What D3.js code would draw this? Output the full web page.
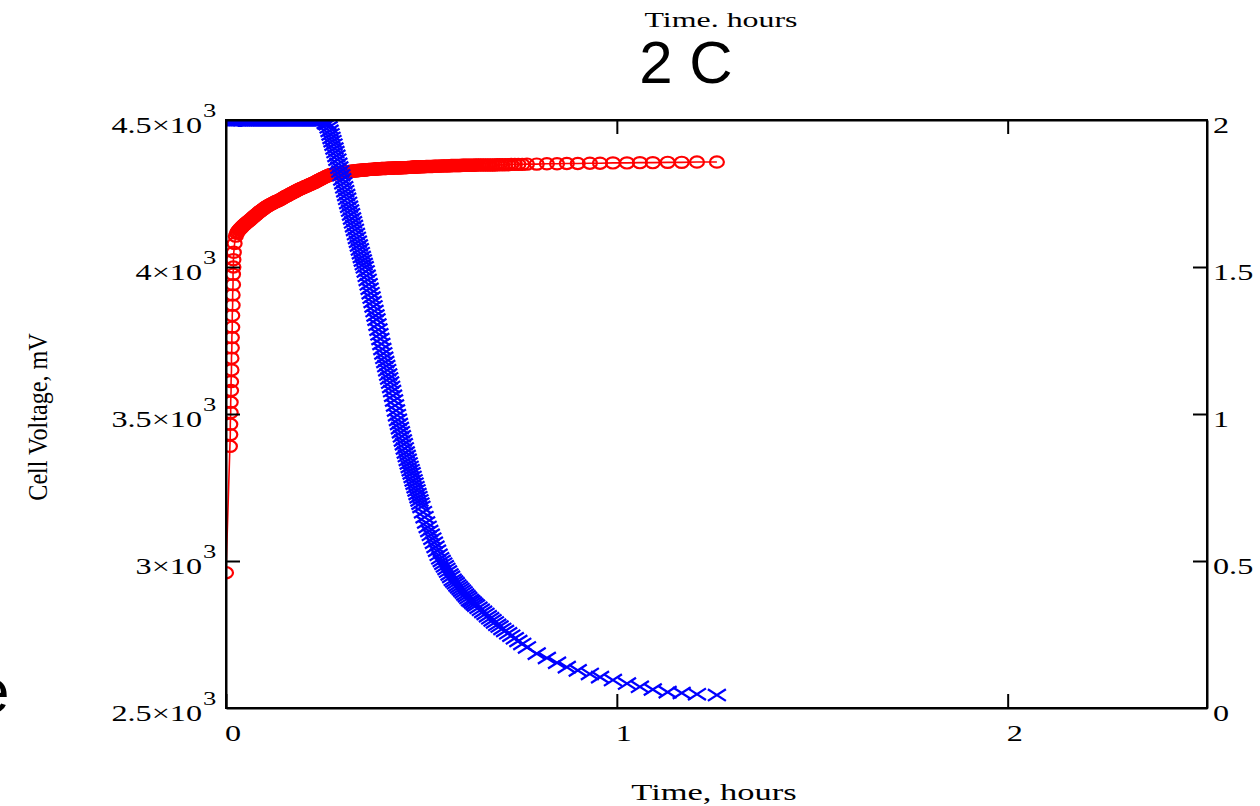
<!DOCTYPE html>
<html>
<head>
<meta charset="utf-8">
<script src="https://cdn.jsdelivr.net/npm/d3@7"></script>
<style>
  html, body { margin: 0; padding: 0; background: #fff; }
  svg { display: block; }
</style>
</head>
<body>
<svg id="chart" width="1260" height="806"></svg>
<script>
// ---------------- DATA ----------------
// Segment 1: start of charge (vertical stack of voltage points near t = 0)
const timeStart = [
  0, 0.010, 0.011, 0.011, 0.012, 0.012, 0.013, 0.013, 0.014, 0.014,
  0.015, 0.015, 0.016, 0.016, 0.017, 0.017, 0.018, 0.018, 0.019, 0.019
];
const voltStart = [
  2960, 3390, 3430, 3465, 3505, 3540, 3580, 3610, 3650, 3690,
  3725, 3760, 3795, 3835, 3870, 3905, 3940, 3975, 4000, 4025
];
const currStart = [
  2, 2, 2, 2, 2, 2, 2, 2, 2, 2,
  2, 2, 2, 2, 2, 2, 2, 2, 2, 2
];

// Segment 2: constant-current phase
const timeCC = [
  0.020, 0.022, 0.025, 0.028, 0.030, 0.033, 0.035, 0.038, 0.040, 0.043, 0.045, 0.048,
  0.0500, 0.0525, 0.0550, 0.0575, 0.0600, 0.0625, 0.0650, 0.0675, 0.0700, 0.0725,
  0.0750, 0.0775, 0.0800, 0.0825, 0.0850, 0.0875, 0.0900, 0.0925, 0.0950, 0.0975,
  0.1000, 0.1025, 0.1050, 0.1075, 0.1100, 0.1125, 0.1150, 0.1175, 0.1200, 0.1225,
  0.1250, 0.1275, 0.1300, 0.1325, 0.1350, 0.1375, 0.1400, 0.1425, 0.1450, 0.1475,
  0.1500, 0.1525, 0.1550, 0.1575, 0.1600, 0.1625, 0.1650, 0.1675, 0.1700, 0.1725,
  0.1750, 0.1775, 0.1800, 0.1825, 0.1850, 0.1875, 0.1900, 0.1925, 0.1950, 0.1975,
  0.2000, 0.2025, 0.2050, 0.2075, 0.2100, 0.2125, 0.2150, 0.2175, 0.2200, 0.2225,
  0.2250, 0.2275, 0.2300, 0.2325, 0.2350, 0.2375, 0.2400, 0.2425, 0.2450, 0.2475,
  0.2500
];
const voltCC = [
  4050, 4080, 4105, 4115, 4120, 4125, 4128, 4132, 4135, 4139, 4142, 4145,
  4148, 4150, 4153, 4156, 4158, 4161, 4164, 4167, 4170, 4173,
  4176, 4178, 4181, 4184, 4187, 4189, 4192, 4194, 4197, 4199,
  4202, 4204, 4206, 4208, 4210, 4212, 4214, 4215, 4217, 4219,
  4221, 4222, 4224, 4225, 4227, 4228, 4230, 4232, 4234, 4236,
  4238, 4240, 4242, 4243, 4245, 4247, 4249, 4250, 4252, 4254,
  4256, 4257, 4259, 4261, 4263, 4264, 4266, 4267, 4269, 4270,
  4272, 4273, 4275, 4276, 4278, 4279, 4281, 4282, 4284, 4285,
  4287, 4288, 4290, 4292, 4294, 4295, 4297, 4299, 4301, 4302,
  4304
];
const currCC = [
  2, 2, 2, 2, 2, 2, 2, 2, 2, 2, 2, 2,
  2, 2, 2, 2, 2, 2, 2, 2, 2, 2,
  2, 2, 2, 2, 2, 2, 2, 2, 2, 2,
  2, 2, 2, 2, 2, 2, 2, 2, 2, 2,
  2, 2, 2, 2, 2, 2, 2, 2, 2, 2,
  2, 2, 2, 2, 2, 2, 2, 2, 2, 2,
  2, 2, 2, 2, 2, 2, 2, 2, 2, 2,
  2, 2, 2, 2, 2, 2, 2, 2, 2, 2,
  2, 2, 2, 2, 2, 2, 2, 2, 2, 2,
  2
];

// Segment 3: steep current decay
const timeDecay = [
  0.2550, 0.2575, 0.2600, 0.2625, 0.2650, 0.2675, 0.2700, 0.2725, 0.2750, 0.2775,
  0.2800, 0.2825, 0.2850, 0.2875, 0.2900, 0.2925, 0.2950, 0.2975, 0.3000, 0.3025,
  0.3050, 0.3075, 0.3100, 0.3125, 0.3150, 0.3175, 0.3200, 0.3225, 0.3250, 0.3275,
  0.3300, 0.3325, 0.3350, 0.3375, 0.3400, 0.3425, 0.3450, 0.3475, 0.3500, 0.3525,
  0.3550, 0.3575, 0.3600, 0.3625, 0.3650, 0.3675, 0.3700, 0.3725, 0.3750, 0.3775,
  0.3800, 0.3825, 0.3850, 0.3875, 0.3900, 0.3925, 0.3950, 0.3975, 0.4000, 0.4025,
  0.4050, 0.4075, 0.4100, 0.4125, 0.4150, 0.4175, 0.4200, 0.4225, 0.4250, 0.4275,
  0.4300, 0.4325, 0.4350, 0.4375, 0.4400, 0.4425, 0.4450, 0.4475, 0.4500, 0.4525,
  0.4550, 0.4575, 0.4600, 0.4625, 0.4650, 0.4675, 0.4700, 0.4725, 0.4750, 0.4775,
  0.4800, 0.4825, 0.4850, 0.4875, 0.4900, 0.4925, 0.4950, 0.4975, 0.5000
];
const voltDecay = [
  4307, 4309, 4310, 4312, 4313, 4314, 4315, 4316, 4317, 4317,
  4318, 4318, 4319, 4319, 4320, 4320, 4321, 4321, 4322, 4322,
  4323, 4323, 4324, 4324, 4325, 4325, 4326, 4326, 4326, 4327,
  4327, 4327, 4328, 4328, 4328, 4329, 4329, 4329, 4330, 4330,
  4330, 4331, 4331, 4331, 4332, 4332, 4332, 4332, 4333, 4333,
  4333, 4333, 4334, 4334, 4334, 4334, 4334, 4335, 4335, 4335,
  4335, 4335, 4335, 4336, 4336, 4336, 4336, 4336, 4336, 4337,
  4337, 4337, 4337, 4337, 4337, 4337, 4337, 4337, 4338, 4338,
  4338, 4338, 4338, 4338, 4339, 4339, 4339, 4339, 4339, 4340,
  4340, 4340, 4340, 4340, 4340, 4341, 4341, 4341, 4341
];
const currDecay = [
  1.990, 1.989, 1.986, 1.975, 1.963, 1.951, 1.939, 1.928, 1.916, 1.903,
  1.891, 1.878, 1.865, 1.851, 1.838, 1.825, 1.812, 1.798, 1.785, 1.771,
  1.758, 1.745, 1.732, 1.718, 1.705, 1.692, 1.679, 1.665, 1.652, 1.639,
  1.626, 1.612, 1.599, 1.586, 1.573, 1.560, 1.547, 1.534, 1.522, 1.510,
  1.499, 1.485, 1.470, 1.456, 1.441, 1.426, 1.411, 1.396, 1.381, 1.366,
  1.350, 1.335, 1.321, 1.304, 1.287, 1.271, 1.255, 1.238, 1.221, 1.206,
  1.191, 1.177, 1.163, 1.149, 1.134, 1.121, 1.107, 1.092, 1.078, 1.062,
  1.046, 1.029, 1.012, 0.996, 0.980, 0.966, 0.952, 0.938, 0.924, 0.910,
  0.897, 0.883, 0.869, 0.857, 0.844, 0.832, 0.820, 0.809, 0.798, 0.786,
  0.774, 0.763, 0.751, 0.740, 0.728, 0.717, 0.706, 0.695, 0.684
];

// Segment 4: slowing decay
const timeSlow = [
  0.504, 0.508, 0.512, 0.516, 0.520, 0.524, 0.528, 0.532, 0.536, 0.540,
  0.544, 0.548, 0.552, 0.556, 0.560, 0.564, 0.568, 0.572, 0.576, 0.580,
  0.584, 0.588, 0.592, 0.596, 0.600, 0.604, 0.608, 0.612, 0.616, 0.620,
  0.624, 0.628, 0.632, 0.636, 0.640,
  0.646, 0.652, 0.658, 0.664, 0.670, 0.676, 0.682, 0.688, 0.694,
  0.700, 0.707, 0.714, 0.722, 0.730, 0.739, 0.748, 0.758
];
const voltSlow = [
  4341, 4341, 4342, 4342, 4342, 4342, 4342, 4343, 4343, 4343,
  4343, 4343, 4344, 4344, 4344, 4344, 4344, 4344, 4345, 4345,
  4345, 4345, 4345, 4345, 4345, 4346, 4346, 4346, 4346, 4346,
  4346, 4346, 4346, 4346, 4347,
  4347, 4347, 4347, 4347, 4347, 4347, 4347, 4347, 4348,
  4348, 4348, 4348, 4348, 4349, 4349, 4349, 4349
];
const currSlow = [
  0.666, 0.649, 0.631, 0.616, 0.602, 0.589, 0.576, 0.562, 0.548, 0.535,
  0.521, 0.509, 0.500, 0.491, 0.482, 0.473, 0.464, 0.454, 0.446, 0.436,
  0.430, 0.424, 0.417, 0.411, 0.405, 0.399, 0.393, 0.386, 0.380, 0.374,
  0.367, 0.363, 0.358, 0.353, 0.348,
  0.341, 0.334, 0.327, 0.320, 0.312, 0.305, 0.298, 0.291, 0.283,
  0.277, 0.269, 0.262, 0.254, 0.246, 0.237, 0.228, 0.218
];

// Segment 5: tail (sparser logging)
const timeTail = [
  0.770, 0.795, 0.821, 0.847, 0.872, 0.900, 0.931, 0.957, 0.990, 1.026,
  1.059, 1.092, 1.130, 1.166, 1.205, 1.256
];
const voltTail = [
  4350, 4350, 4351, 4351, 4352, 4352, 4353, 4353, 4354, 4354,
  4355, 4355, 4356, 4356, 4357, 4357
];
const currTail = [
  0.206, 0.185, 0.170, 0.154, 0.139, 0.128, 0.116, 0.105, 0.095, 0.083,
  0.072, 0.063, 0.054, 0.051, 0.047, 0.044
];

const timeHours = [...timeStart, ...timeCC, ...timeDecay, ...timeSlow, ...timeTail];
const voltageMv = [...voltStart, ...voltCC, ...voltDecay, ...voltSlow, ...voltTail];
const currentC = [...currStart, ...currCC, ...currDecay, ...currSlow, ...currTail];

const xTickValues = [0, 1, 2];
const xTickLabels = ["0", "1", "2"];
const leftTickValues = [2500, 3000, 3500, 4000, 4500];
const leftTickMantissa = ["2.5\u00d710", "3\u00d710", "3.5\u00d710", "4\u00d710", "4.5\u00d710"];
const leftTickExponent = "3";
const rightTickValues = [0, 0.5, 1, 1.5, 2];
const rightTickLabels = ["0", "0.5", "1", "1.5", "2"];

const titleText = "2 C";
const topAxisTitle = "Time. hours";
const bottomAxisTitle = "Time, hours";
const leftAxisTitle = "Cell Voltage, mV";
const strayText = "e";

// ---------------- LAYOUT ----------------
const L = 226, R = 1207, T = 120, B = 708;
const serif = "'Liberation Serif', 'Times New Roman', serif";
const sans = "'Liberation Sans', Arial, sans-serif";

const svg = d3.select("#chart");

const x = d3.scaleLinear().domain([0, 2.51]).range([L, R]);
const yL = d3.scaleLinear().domain([2500, 4500]).range([B, T]);
const yR = d3.scaleLinear().domain([0, 2]).range([B, T]);

const n = Math.min(timeHours.length, voltageMv.length, currentC.length);
const pts = timeHours.slice(0, n).map((t, i) => ({ t, v: voltageMv[i], c: currentC[i] }));

svg.append("defs").append("clipPath").attr("id", "plotclip")
  .append("rect").attr("x", L).attr("y", T).attr("width", R - L).attr("height", B - T);

const plot = svg.append("g").attr("clip-path", "url(#plotclip)");

// red voltage trace: thin connecting line + open circles
plot.append("path")
  .datum(pts)
  .attr("fill", "none")
  .attr("stroke", "#ff0000")
  .attr("stroke-width", 1.6)
  .attr("d", d3.line().x(d => x(d.t)).y(d => yL(d.v)));

plot.append("g").selectAll("ellipse")
  .data(pts).join("ellipse")
  .attr("cx", d => x(d.t))
  .attr("cy", d => yL(d.v))
  .attr("rx", 7)
  .attr("ry", 5.6)
  .attr("fill", "none")
  .attr("stroke", "#ff0000")
  .attr("stroke-width", 2.2);

// blue current trace: x markers
const hw = 9, hh = 5.8;
plot.append("g").selectAll("path")
  .data(pts).join("path")
  .attr("d", d => {
    const cx = x(d.t), cy = yR(d.c);
    return `M${cx - hw},${cy - hh}L${cx + hw},${cy + hh}M${cx - hw},${cy + hh}L${cx + hw},${cy - hh}`;
  })
  .attr("fill", "none")
  .attr("stroke", "#0000ff")
  .attr("stroke-width", 2.3);

// ---------------- AXES ----------------
const TICK = 14;
function styleAxis(g) {
  g.selectAll("path.domain").attr("stroke", "#000").attr("stroke-width", 2);
  g.selectAll(".tick line").attr("stroke", "#000").attr("stroke-width", 2);
  g.selectAll(".tick text").remove();
}
svg.append("g").attr("transform", `translate(0,${B})`)
  .call(d3.axisBottom(x).tickValues(xTickValues).tickSizeInner(-TICK).tickSizeOuter(0)).call(styleAxis);
svg.append("g").attr("transform", `translate(0,${T})`)
  .call(d3.axisTop(x).tickValues(xTickValues.slice(1)).tickSizeInner(-TICK).tickSizeOuter(0)).call(styleAxis);
svg.append("g").attr("transform", `translate(${L},0)`)
  .call(d3.axisLeft(yL).tickValues(leftTickValues.slice(1, -1)).tickSizeInner(-TICK).tickSizeOuter(0)).call(styleAxis);
svg.append("g").attr("transform", `translate(${R},0)`)
  .call(d3.axisRight(yR).tickValues(rightTickValues.slice(1, -1)).tickSizeInner(-TICK).tickSizeOuter(0)).call(styleAxis);
svg.append("rect").attr("x", L).attr("y", T).attr("width", R - L).attr("height", B - T)
  .attr("fill", "none").attr("stroke", "#000").attr("stroke-width", 2);

// horizontally stretched serif text helper
function sText(px, py, str, size, anchor, sx) {
  const g = svg.append("g").attr("transform", `translate(${px},${py}) scale(${sx},1)`);
  g.append("text").attr("x", 0).attr("y", 0)
    .attr("font-family", serif).attr("font-size", size)
    .attr("text-anchor", anchor).attr("fill", "#000").text(str);
  return g;
}

// bottom tick labels
xTickValues.forEach((v, i) => sText(x(v) + 7, 741, xTickLabels[i], 23, "middle", 1.4));
// left tick labels with exponent
leftTickValues.forEach((v, i) => {
  sText(202, yL(v) + 13, leftTickMantissa[i], 23, "end", 1.4);
  sText(203, yL(v) - 3, leftTickExponent, 19, "start", 1.4);
});
// right tick labels
rightTickValues.forEach((v, i) => sText(1213, yR(v) + 13, rightTickLabels[i], 23, "start", 1.4));

// titles
sText(714, 800, bottomAxisTitle, 23, "middle", 1.5);
sText(721, 27, topAxisTitle, 22, "middle", 1.45);
svg.append("text").attr("x", 686).attr("y", 83)
  .attr("font-family", sans).attr("font-size", 60).attr("text-anchor", "middle")
  .attr("fill", "#000").text(titleText);

// rotated left title
const yt = svg.append("g").attr("transform", "translate(47,417) rotate(-90) scale(1.15,1.35)");
yt.append("text").attr("x", 0).attr("y", 0)
  .attr("font-family", serif).attr("font-size", 21).attr("text-anchor", "middle")
  .attr("fill", "#000").text(leftAxisTitle);

// stray glyph at the bottom-left edge (cut off in the original too)
svg.append("text").attr("x", 9.5).attr("y", 712)
  .attr("font-family", sans).attr("font-size", 62).attr("text-anchor", "end")
  .attr("fill", "#000").text(strayText);
</script>
</body>
</html>
